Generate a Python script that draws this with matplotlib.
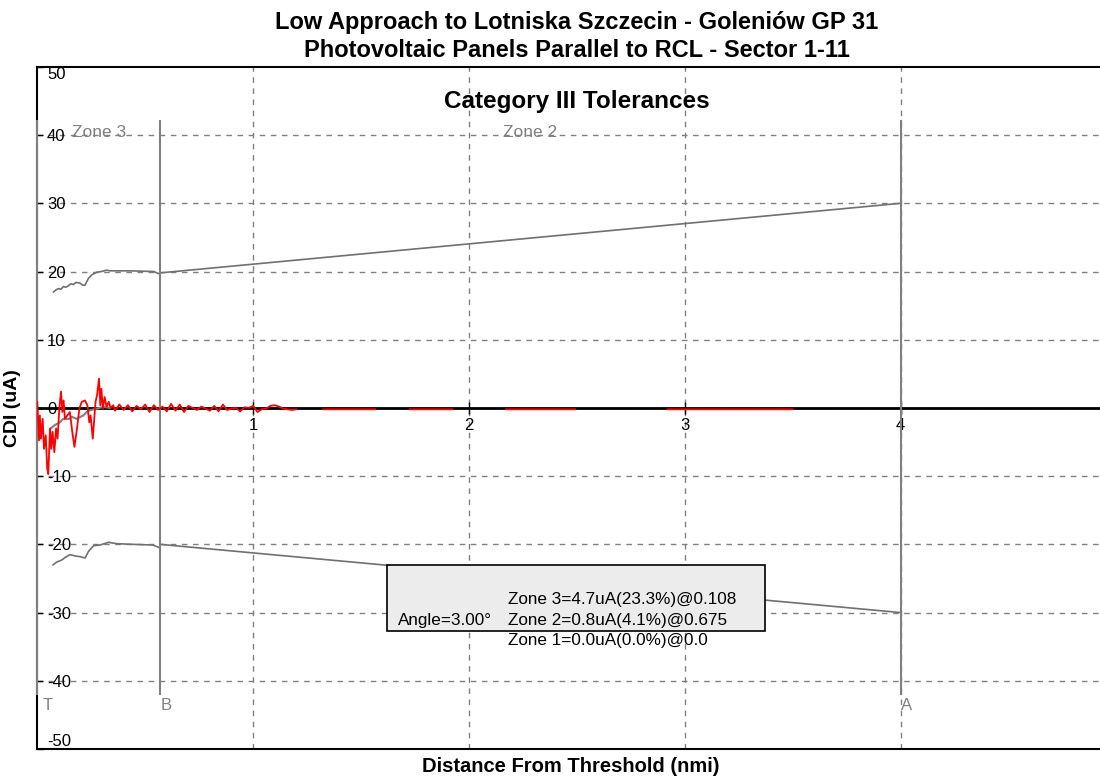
import numpy as np
import matplotlib
matplotlib.use('Agg')
import matplotlib.pyplot as plt
from matplotlib.patches import Rectangle

plt.rcParams['font.family'] = ['Liberation Sans', 'DejaVu Sans']
plt.rcParams['axes.unicode_minus'] = False

nan = np.nan

# CDI trace (red); nan = gap in the trace
cdi_x = [0.0, 0.008, 0.012, 0.017, 0.025, 0.031, 0.039, 0.046, 0.051, 0.059,
         0.065, 0.071, 0.079, 0.087, 0.094, 0.102, 0.110, 0.116, 0.122, 0.128,
         0.139, 0.151, 0.162, 0.172, 0.182, 0.195, 0.206, 0.221, 0.232, 0.241,
         0.247, 0.257, 0.264, 0.270, 0.277, 0.286, 0.292, 0.297, 0.304, 0.312,
         0.321, 0.331, 0.340, 0.352,
         0.36, 0.38, 0.40, 0.42, 0.44, 0.46, 0.48, 0.50, 0.52, 0.54, 0.56,
         0.58, 0.60, 0.62, 0.64, 0.66, 0.68, 0.70, 0.72, 0.74, 0.76, 0.78,
         0.80, 0.82, 0.84, 0.86, 0.88, 0.90, 0.92, 0.94, 0.96, 0.98, 1.00,
         1.02, 1.04, 1.06, 1.08, 1.10, 1.12, 1.14, 1.16, 1.18, 1.20,
         1.21, 1.325, 1.565, 1.60, 1.726, 1.923, 1.95, 2.172, 2.493, 2.52,
         2.92, 3.50]
cdi_y = [0.9, -4.75, -1.1, -4.5, -1.6, -6.0, -4.0, -8.9, -9.7, -3.0,
         -6.0, -3.5, -6.5, -3.0, -4.5, -0.1, 2.4, -0.6, 1.1, -1.6,
         -1.1, -0.6, -3.5, -5.7, -3.5, -0.1, 0.9, 1.1, 0.4, -2.1,
         -1.1, -4.5, -1.6, 0.9, 1.9, 4.3, 0.4, 2.8, -0.1, 1.6,
         0.15, 0.9, 0.0, 0.4,
         -0.4, 0.5, -0.3, 0.4, -0.5, 0.3, -0.2, 0.5, -0.6, 0.4, -0.3,
         0.2, -0.5, 0.6, -0.4, 0.5, -0.6, 0.3, 0.0, -0.3, 0.2, -0.1,
         -0.4, 0.3, -0.5, 0.5, -0.3, -0.1, 0.0, -0.5, 0.1, 0.0, 0.3,
         -0.6, -0.2, -0.1, 0.3, 0.4, 0.2, -0.1, -0.2, -0.3, -0.2,
         nan, -0.2, -0.2, nan, -0.2, -0.2, nan, -0.2, -0.2, nan,
         -0.2, -0.2]

# grey trace near zero
struct_x = [0.062, 0.082, 0.105, 0.12, 0.148, 0.16, 0.182, 0.213, 0.229, 0.244, 0.275, 0.306, 0.337]
struct_y = [-3.0, -2.5, -2.1, -1.6, -1.6, -1.3, -1.6, -1.1, -0.6, -0.35, -0.1, 0.15, 0.0]

# tolerance limits
upper_x = [0.075, 0.086, 0.098, 0.11, 0.121, 0.132, 0.144, 0.155, 0.167, 0.18, 0.198,
           0.21, 0.221, 0.237, 0.252, 0.275, 0.298, 0.321, 0.337, 0.368, 0.43,
           0.54, 0.56, 0.57, 4.0]
upper_y = [17.0, 17.3, 17.5, 17.4, 17.8, 17.7, 17.9, 18.2, 18.1, 18.4, 18.3,
           18.0, 18.0, 19.0, 19.5, 19.9, 20.0, 20.2, 20.1, 20.1, 20.1,
           20.0, 19.7, 19.8, 30.0]
lower_x = [0.073, 0.09, 0.113, 0.13, 0.152, 0.175, 0.198, 0.221, 0.238, 0.261,
           0.29, 0.33, 0.368, 0.445, 0.537, 0.566, 0.57, 4.0]
lower_y = [-23.0, -22.6, -22.3, -21.9, -21.5, -21.7, -21.8, -22.0, -21.0, -20.2,
           -20.1, -19.7, -19.9, -20.0, -20.1, -20.5, -20.0, -30.0]

# zone points
point_names = ['T', 'B', 'A']
point_x = [0.0, 0.57, 4.0]
zone_names = ['Zone 3', 'Zone 2']

x_ticks = [1, 2, 3, 4]
y_ticks = [-50, -40, -30, -20, -10, 0, 10, 20, 30, 40, 50]

angle_text = 'Angle=3.00\u00b0'
zone_results = ['Zone 3=4.7uA(23.3%)@0.108',
                'Zone 2=0.8uA(4.1%)@0.675',
                'Zone 1=0.0uA(0.0%)@0.0']

fig = plt.figure(figsize=(11, 7.76), dpi=100)
ax = fig.add_axes([0.0339, 0.0348, 0.981, 0.879])
ax.set_xlim(0, 5)
ax.set_ylim(-50, 50)

grey = '#808080'

# grid
ax.set_xticks(x_ticks)
ax.set_yticks(y_ticks)
ax.grid(True, color=grey, linestyle=(0, (4, 4)), linewidth=1)
for gl, v in zip(ax.get_ygridlines(), y_ticks):
    if abs(v) == 50:
        gl.set_visible(False)

# frame
for s in ['top', 'left', 'right']:
    ax.spines[s].set_linewidth(1.5)
ax.spines['bottom'].set_position(('data', 0))
ax.spines['bottom'].set_linewidth(2)
ax.axhline(-50, color='black', lw=1.5, clip_on=False, zorder=2.5)

ax.tick_params(axis='x', direction='inout', length=8, width=1, labelsize=12, pad=3)
ax.tick_params(axis='y', direction='in', length=4, width=1, labelsize=12, pad=-7)
for lab, v in zip(ax.get_yticklabels(), y_ticks):
    lab.set_ha('left')
    if v == 50:
        lab.set_va('top')
    elif v == -50:
        lab.set_va('bottom')

# zone lines and labels
for name, px in zip(point_names, point_x):
    ax.plot([px, px], [-42, 42], color=grey, lw=1.5, zorder=3, clip_on=False)
    ax.text(px + (0.025 if px == 0 else 0), -43.6, name, color=grey,
            fontsize=12, ha='left', va='center')
for i, name in enumerate(zone_names):
    ax.text((point_x[i] + point_x[i + 1]) / 2, 40.4, name, color=grey,
            fontsize=12.5, ha='center', va='center')

ax.plot(upper_x, upper_y, color='#707070', lw=1.2, zorder=2.2)
ax.plot(lower_x, lower_y, color='#707070', lw=1.2, zorder=2.2)
ax.plot(struct_x, struct_y, color=grey, lw=1.5, zorder=2.8)
ax.plot(cdi_x, cdi_y, color='red', lw=1.3, zorder=3.2)

# result box
ax.add_patch(Rectangle((1.62, -32.65), 1.754, 9.65, facecolor='#ececec',
                       edgecolor='black', lw=1.2, zorder=4))
ax.text(1.67, -31.2, angle_text, fontsize=12.3, va='center', zorder=5)
for i, t in enumerate(zone_results):
    ax.text(2.18, -28.1 - i * 3.0, t, fontsize=12.3, va='center', zorder=5)

ax.text(0.5, 0.949, 'Category III Tolerances', transform=ax.transAxes,
        fontsize=17.5, fontweight='bold', ha='center', va='center')

ax.set_title('Low Approach to Lotniska Szczecin - Goleni\u00f3w GP 31\n'
             'Photovoltaic Panels Parallel to RCL - Sector 1-11',
             fontsize=17, fontweight='bold', pad=7, linespacing=1.3)
ax.set_xlabel('Distance From Threshold (nmi)', fontsize=14.5, fontweight='bold')
ax.xaxis.set_label_coords(0.4943, -0.0118)
ax.set_ylabel('CDI (uA)', fontsize=14, fontweight='bold')
ax.yaxis.set_label_coords(-0.0153, 0.5)

fig.savefig('out.png', dpi=100)
